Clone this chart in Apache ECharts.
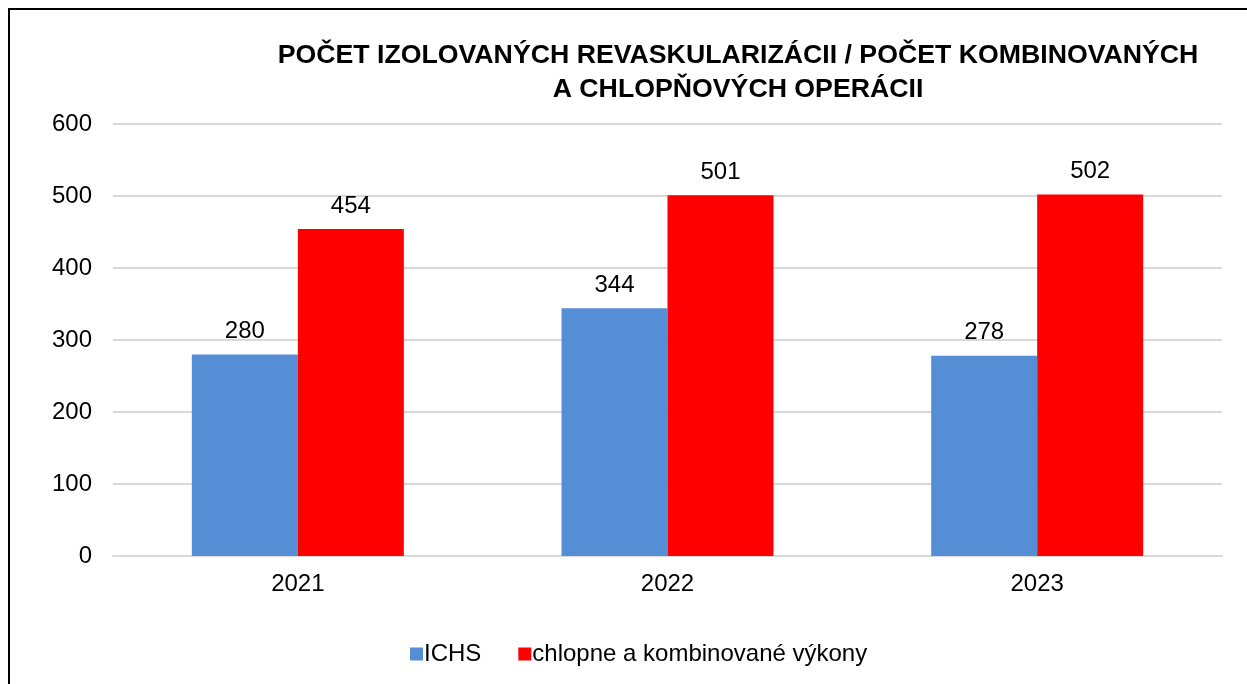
<!DOCTYPE html>
<html><head><meta charset="utf-8">
<script src="https://cdn.jsdelivr.net/npm/echarts@6/dist/echarts.min.js"></script>
<style>html,body{margin:0;padding:0;background:#fff}#c{width:1247px;height:684px}</style>
</head><body><div id="c"></div>
<script>
const categories = ['2021', '2022', '2023'];
const ichs = [280, 344, 278];
const chlopne = [454, 501, 502];
const seriesNames = ['ICHS', 'chlopne a kombinované výkony'];
const titleLines = ['POČET IZOLOVANÝCH REVASKULARIZÁCII / POČET KOMBINOVANÝCH', 'A CHLOPŇOVÝCH OPERÁCII'];

const font = 'Liberation Sans, Arial, sans-serif';
const chart = echarts.init(document.getElementById('c'));
chart.setOption({
  animation: false,
  backgroundColor: '#fff',
  title: {
    text: titleLines.join('\n'),
    left: 733, top: 34, textAlign: 'center',
    textStyle: {fontFamily: font, fontWeight: 'bold', fontSize: 26.7, lineHeight: 34, color: '#000'}
  },
  graphic: [{
    type: 'polyline', shape: {points: [[9, 700], [9, 9], [1260, 9]]},
    style: {stroke: '#000', lineWidth: 2, fill: null}
  }],
  legend: {
    bottom: 13, left: 405, itemWidth: 13, itemHeight: 13, itemGap: 37,
    icon: 'rect',
    textStyle: {fontFamily: font, fontSize: 24, color: '#000', padding: [0, 0, 0, -4]},
    data: seriesNames
  },
  grid: {left: 113, right: 25, top: 124, bottom: 128, containLabel: false},
  xAxis: {
    type: 'category', data: categories,
    axisLine: {lineStyle: {color: '#d9d9d9', width: 2}},
    axisTick: {show: false},
    axisLabel: {fontFamily: font, fontSize: 24, color: '#000', margin: 16}
  },
  yAxis: {
    type: 'value', min: 0, max: 600, interval: 100,
    axisLine: {show: false}, axisTick: {show: false},
    splitLine: {lineStyle: {color: '#d9d9d9', width: 2}},
    axisLabel: {fontFamily: font, fontSize: 24, color: '#000', margin: 21}
  },
  series: [
    {name: seriesNames[0], type: 'bar', data: ichs, barWidth: 106, barGap: '0%',
     itemStyle: {color: '#558ed5'},
     label: {show: true, position: 'top', distance: 11, fontFamily: font, fontSize: 24, color: '#000'}},
    {name: seriesNames[1], type: 'bar', data: chlopne, barWidth: 106, barGap: '0%',
     itemStyle: {color: '#ff0000'},
     label: {show: true, position: 'top', distance: 11, fontFamily: font, fontSize: 24, color: '#000'}}
  ]
});
</script></body></html>
